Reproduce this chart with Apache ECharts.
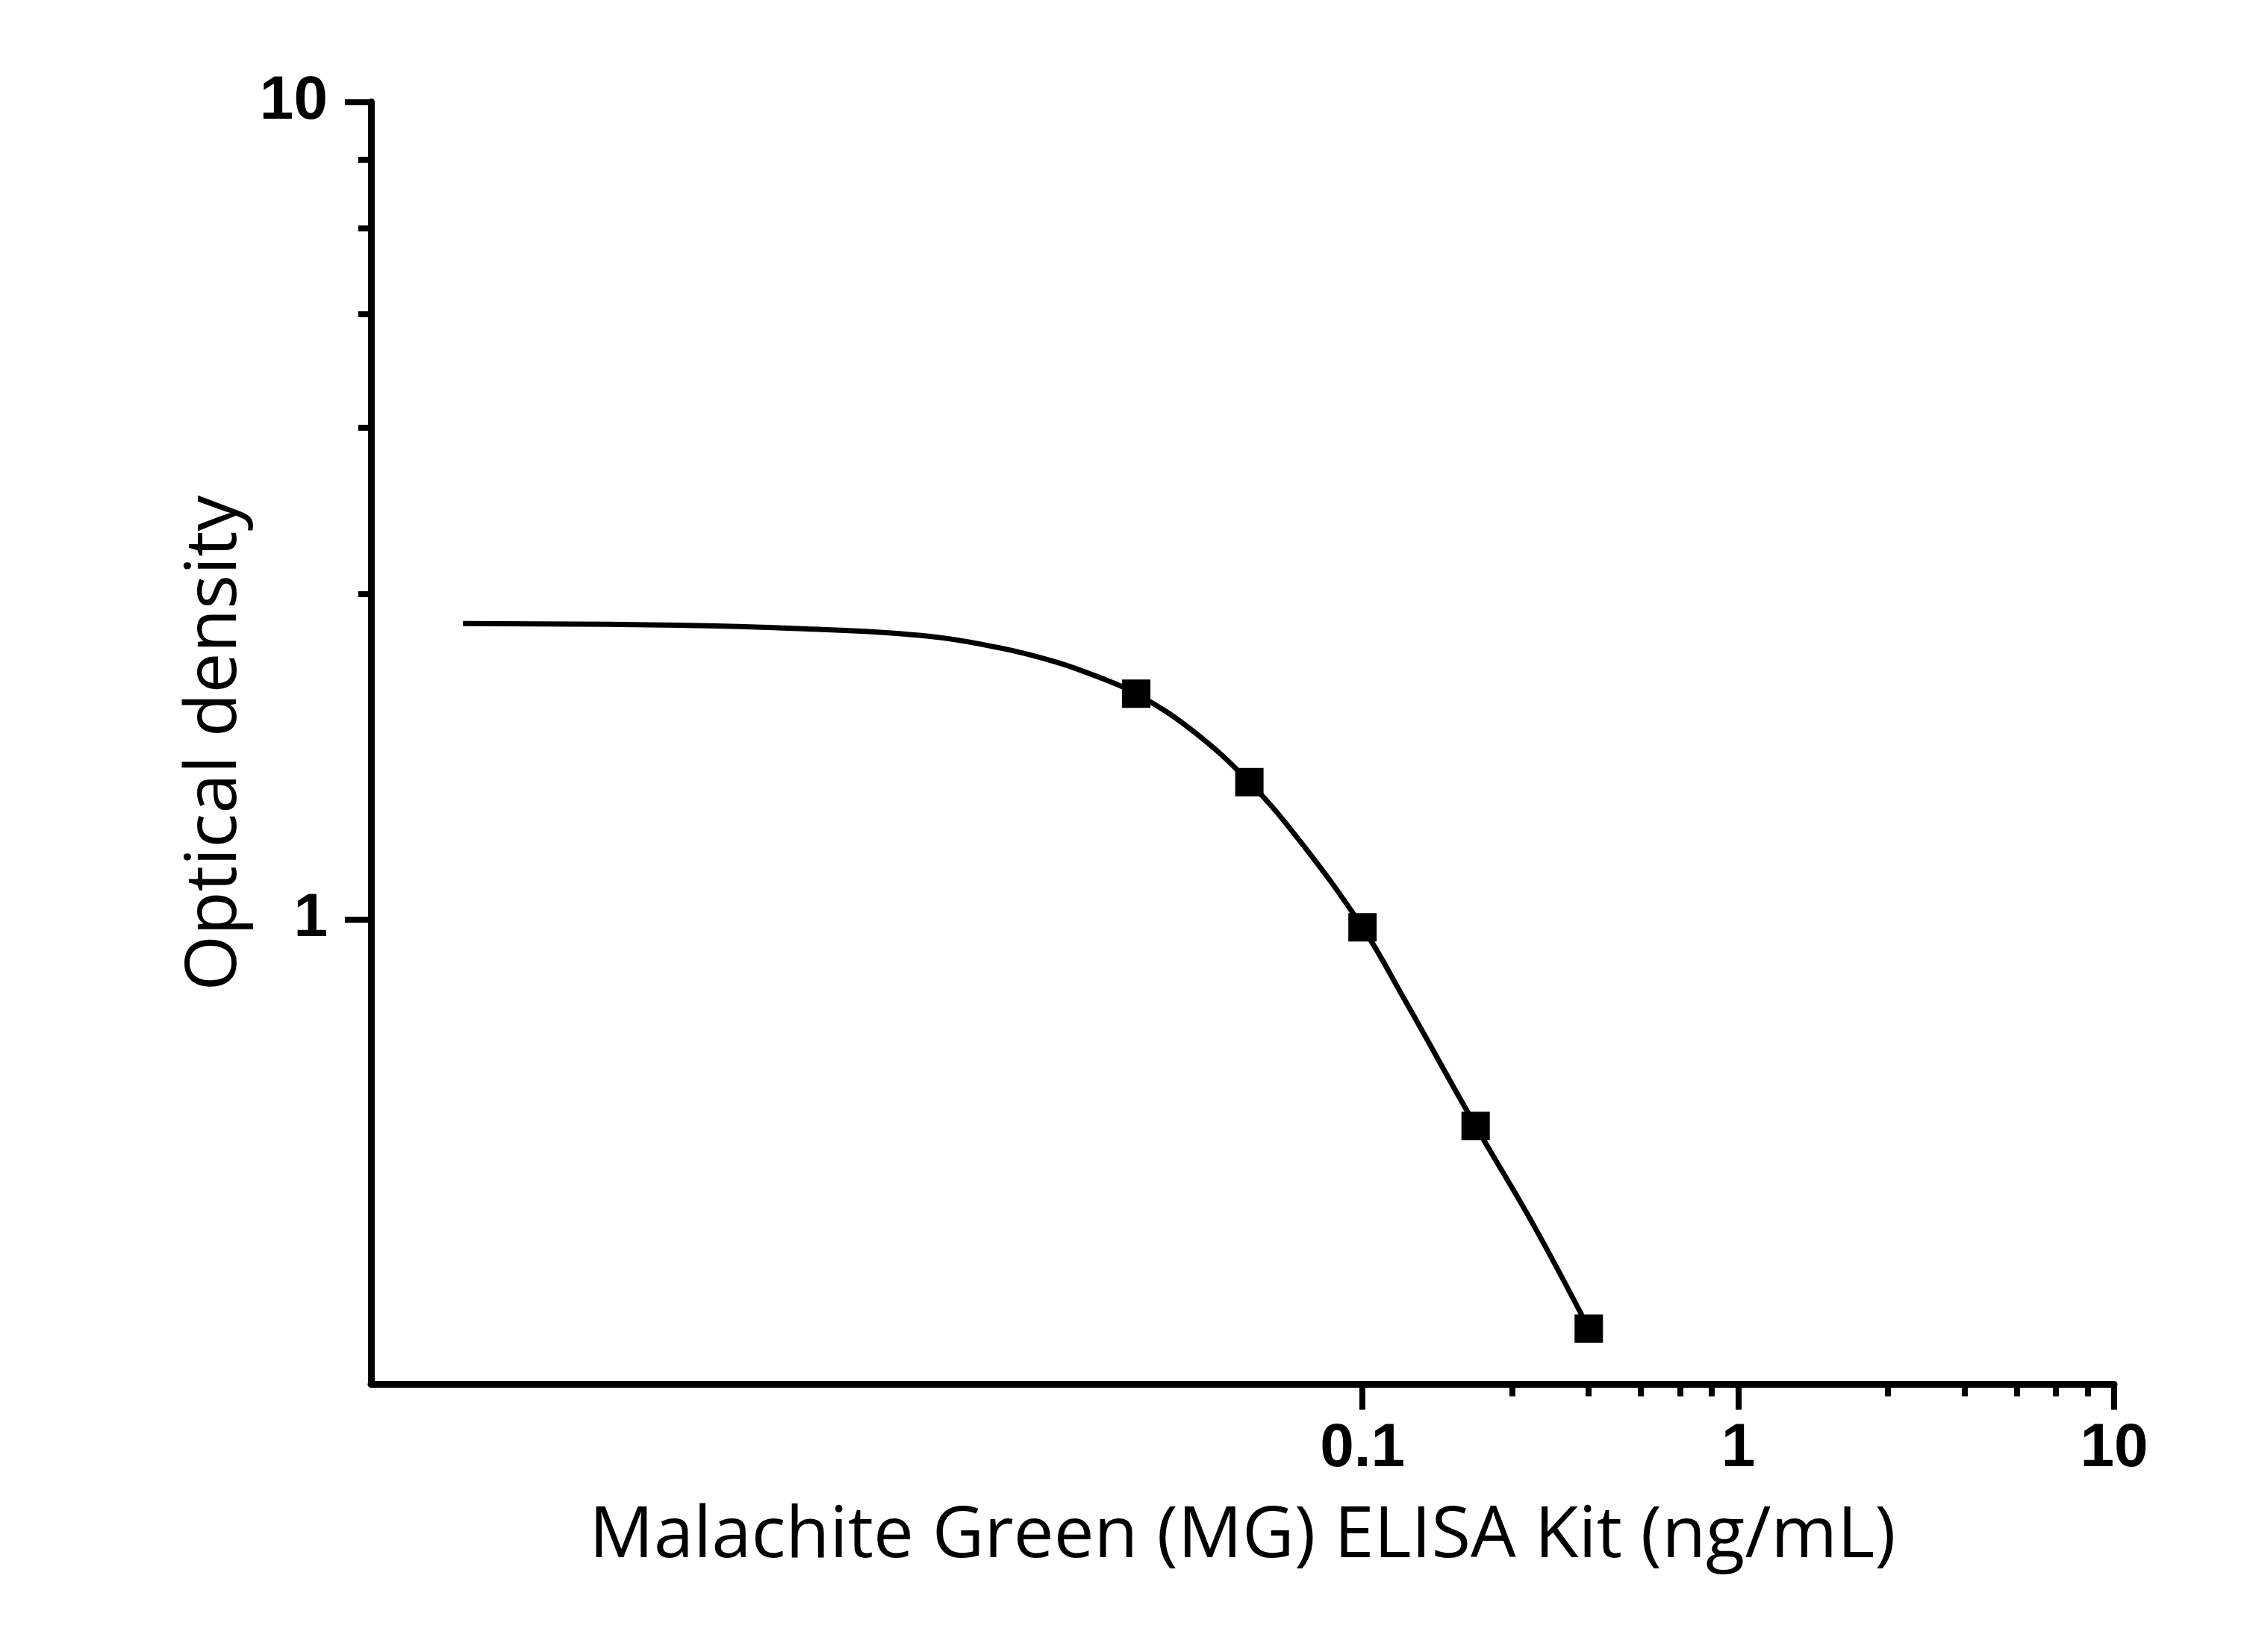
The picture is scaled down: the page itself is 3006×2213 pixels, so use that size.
<!DOCTYPE html>
<html>
<head>
<meta charset="utf-8">
<title>Malachite Green (MG) ELISA Kit</title>
<script src="https://cdn.jsdelivr.net/npm/echarts@6/dist/echarts.min.js"></script>
<style>
  html, body { margin: 0; padding: 0; background: #fff; }
  #chart { width: 3006px; height: 2213px; }
</style>
</head>
<body>
<div id="chart"></div>
<script>
// standard points (ng/mL, OD)
var conc = [0.025, 0.05, 0.1, 0.2, 0.4];
var od = [1.889, 1.472, 0.978, 0.559, 0.316];

// fitted curve
var curveX = [0.000404, 0.00149, 0.00314, 0.00661, 0.01083, 0.01535, 0.01963, 0.025, 0.0356, 0.05, 0.0678, 0.1, 0.129, 0.2, 0.286, 0.4];
var curveY = [2.302, 2.291, 2.269, 2.226, 2.149, 2.064, 1.983, 1.889, 1.697, 1.472, 1.251, 0.978, 0.800, 0.559, 0.422, 0.316];

// ticks
var xMajor = [0.1, 1, 10];
var xMinor = [0.25, 0.4, 0.55, 0.7, 0.85, 2.5, 4, 5.5, 7, 8.5];
var yMajor = [1, 10];
var yMinor = [2.5, 4, 5.5, 7, 8.5];

var xMin = 0.00023, xMax = 10;
var yMin = 0.27, yMax = 10;

var pts = [];
for (var i = 0; i < conc.length; i++) pts.push([conc[i], od[i]]);
var curve = [];
for (var j = 0; j < curveX.length; j++) curve.push([curveX[j], curveY[j]]);

var tickFont = { fontFamily: '"Liberation Sans", Arimo, Arial, sans-serif', fontWeight: 'bold', fontSize: 82, color: '#000' };
var titleFont = { fontFamily: '"Open Sans", sans-serif', fontSize: 96, color: '#000' };

var myChart = echarts.init(document.getElementById('chart'));
var option = {
	animation: false,
	backgroundColor: '#fff',
	grid: { left: 497, right: 174, top: 136.5, bottom: 358.5 },
	xAxis: [{
		type: 'log',
		min: xMin,
		max: xMax,
		name: 'Malachite Green (MG) ELISA Kit (ng/mL)',
		nameLocation: 'middle',
		nameGap: 156,
		nameTextStyle: titleFont,
		axisLine: { onZero: false, lineStyle: { color: '#000', width: 9 } },
		axisTick: { customValues: xMajor, length: 34, lineStyle: { color: '#000', width: 8 } },
		axisLabel: Object.assign({ customValues: xMajor, margin: 46 }, tickFont),
		splitLine: { show: false }
	}, {
		type: 'log',
		min: xMin,
		max: xMax,
		position: 'bottom',
		axisLine: { show: false },
		axisTick: { customValues: xMinor, length: 16, lineStyle: { color: '#000', width: 8 } },
		axisLabel: { show: false },
		splitLine: { show: false }
	}],
	yAxis: [{
		type: 'log',
		min: yMin,
		max: yMax,
		name: 'Optical density',
		nameLocation: 'middle',
		nameGap: 150,
		nameRotate: 90,
		nameTextStyle: titleFont,
		axisLine: { onZero: false, lineStyle: { color: '#000', width: 9 } },
		axisTick: { customValues: yMajor, length: 35, lineStyle: { color: '#000', width: 8 } },
		axisLabel: Object.assign({ customValues: yMajor, margin: 58, padding: [0, 0, 22, 0] }, tickFont),
		splitLine: { show: false }
	}, {
		type: 'log',
		min: yMin,
		max: yMax,
		position: 'left',
		axisLine: { show: false },
		axisTick: { customValues: yMinor, length: 17, lineStyle: { color: '#000', width: 8 } },
		axisLabel: { show: false },
		splitLine: { show: false }
	}],
	series: [{
		name: 'fit',
		type: 'line',
		data: curve,
		smooth: 0.4,
		showSymbol: false,
		lineStyle: { color: '#000', width: 7 },
		z: 2
	}, {
		name: 'standards',
		type: 'scatter',
		data: pts,
		symbol: 'rect',
		symbolSize: 38,
		itemStyle: { color: '#000', opacity: 1 },
		z: 3
	}]
};
myChart.setOption(option);
</script>
</body>
</html>
